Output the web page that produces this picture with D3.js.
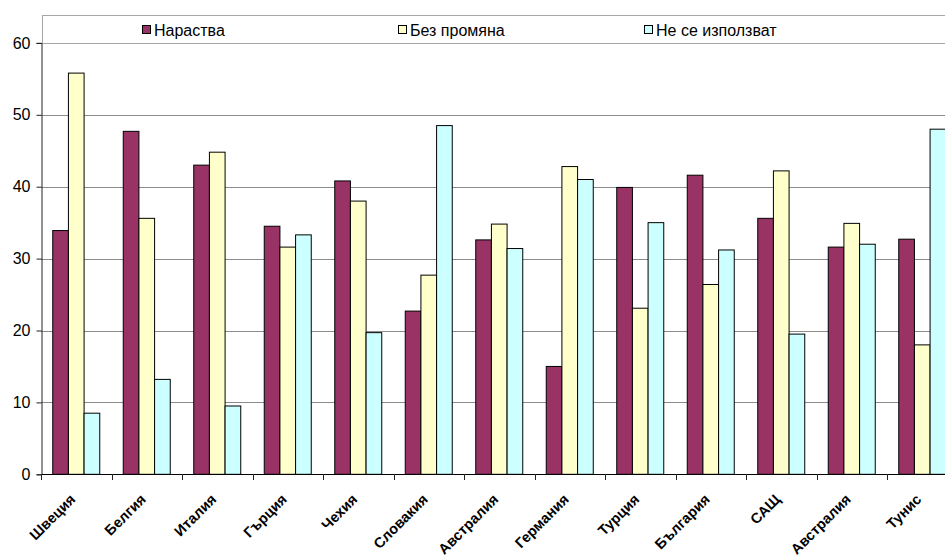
<!DOCTYPE html>
<html>
<head>
<meta charset="utf-8">
<script src="https://cdn.jsdelivr.net/npm/d3@7"></script>
<style>
  html, body { margin: 0; padding: 0; background: #fff; }
  svg { display: block; font-family: Arial, "Liberation Sans", sans-serif; }
</style>
</head>
<body>
<svg id="chart" width="945" height="559"></svg>
<script>
// Countries on the category axis
const countries = ["Швеция", "Белгия", "Италия", "Гърция", "Чехия", "Словакия",
  "Австралия", "Германия", "Турция", "България", "САЩ", "Австралия", "Тунис"];

// Series names shown in the legend
const seriesNames = ["Нараства", "Без промяна", "Не се използват"];

// Values per series (%), one entry per country
const growing   = [33.9, 47.7, 43.0, 34.5, 40.8, 22.7, 32.6, 15.0, 39.9, 41.6, 35.6, 31.6, 32.7];
const unchanged = [55.8, 35.6, 44.8, 31.6, 38.0, 27.7, 34.8, 42.8, 23.1, 26.4, 42.2, 34.9, 18.0];
const unused    = [8.5, 13.2, 9.5, 33.3, 19.7, 48.5, 31.4, 41.0, 35.0, 31.2, 19.5, 32.0, 48.0];

// Value axis ticks
const yTicks = [0, 10, 20, 30, 40, 50, 60];

const seriesValues = [growing, unchanged, unused];
const colors = ["#993366", "#FFFFCC", "#CCFFFF"];

const svg = d3.select("#chart");

const plotLeft = 41, plotRight = 957.5, plotTop = 42.9, plotBottom = 474.3;

const x0 = d3.scaleBand()
  .domain(d3.range(countries.length))
  .range([plotLeft, plotRight])
  .paddingInner(1 / 3)
  .paddingOuter(1 / 6);

const x1 = d3.scaleBand()
  .domain(d3.range(seriesNames.length))
  .range([0, x0.bandwidth()]);

const y = d3.scaleLinear().domain([0, 60]).range([plotBottom, plotTop]);

// Horizontal gridlines
svg.append("g")
  .selectAll("line")
  .data(yTicks.filter(t => t > 0))
  .join("line")
  .attr("x1", plotLeft).attr("x2", plotRight)
  .attr("y1", d => Math.round(y(d)) + 0.5).attr("y2", d => Math.round(y(d)) + 0.5)
  .attr("stroke", "#8c8c8c").attr("stroke-width", 1);

// Legend box along the top of the plot
const legend = svg.append("g");
legend.append("rect")
  .attr("x", plotLeft + 1.5).attr("y", 15.5)
  .attr("width", plotRight - plotLeft + 10).attr("height", Math.round(y(60)) - 15)
  .attr("fill", "#fff").attr("stroke", "#a6a6a6").attr("stroke-width", 1);

const legendX = [142, 398, 644];
const legendItems = legend.selectAll("g.item")
  .data(seriesNames)
  .join("g")
  .attr("class", "item")
  .attr("transform", (d, i) => `translate(${legendX[i]},0)`);
legendItems.append("rect")
  .attr("x", 0.5).attr("y", 25.5).attr("width", 8).attr("height", 8)
  .attr("fill", (d, i) => colors[i]).attr("stroke", "#000").attr("stroke-width", 1);
legendItems.append("text")
  .attr("x", 12).attr("y", 35.5)
  .attr("font-size", 16).attr("fill", "#000")
  .text(d => d);

// Bars
const groups = svg.append("g")
  .selectAll("g")
  .data(countries.map((c, i) => i))
  .join("g")
  .attr("transform", i => `translate(${x0(i)},0)`);

groups.selectAll("rect")
  .data(i => seriesValues.map((vals, s) => ({ s, v: vals[i] })))
  .join("rect")
  .attr("x", d => x1(d.s))
  .attr("y", d => y(d.v))
  .attr("width", x1.bandwidth())
  .attr("height", d => y(0) - y(d.v))
  .attr("fill", d => colors[d.s])
  .attr("stroke", "#000").attr("stroke-width", 1);

// Value axis
const yAxis = svg.append("g")
  .attr("transform", `translate(${plotLeft + 0.5},0)`)
  .call(d3.axisLeft(y).tickValues(yTicks).tickSize(5).tickPadding(6));
yAxis.select(".domain").attr("stroke", "#222");
yAxis.selectAll(".tick line").attr("stroke", "#222");
yAxis.selectAll(".tick text").attr("font-size", 16).attr("font-family", "Arial, 'Liberation Sans', sans-serif").attr("fill", "#000");

// Category axis: baseline, boundary ticks and rotated labels
const xAxis = svg.append("g");
const step = x0.step();
const boundaries = d3.range(countries.length + 1).map(i => x0(0) - step * x0.paddingOuter() + i * step);
xAxis.append("line")
  .attr("x1", plotLeft).attr("x2", plotRight)
  .attr("y1", Math.round(y(0)) + 0.5).attr("y2", Math.round(y(0)) + 0.5)
  .attr("stroke", "#000");
xAxis.selectAll("line.tick")
  .data(boundaries)
  .join("line")
  .attr("class", "tick")
  .attr("x1", d => Math.round(d) + 0.5).attr("x2", d => Math.round(d) + 0.5)
  .attr("y1", Math.round(y(0))).attr("y2", Math.round(y(0)) + 6)
  .attr("stroke", "#222");
xAxis.selectAll("text")
  .data(countries)
  .join("text")
  .attr("transform", (d, i) => `translate(${x0(i) + x0.bandwidth() / 2},${y(0) + 26}) rotate(-45)`)
  .attr("text-anchor", "end")
  .attr("font-size", 14.5).attr("font-weight", "bold").attr("fill", "#000")
  .text(d => d);
</script>
</body>
</html>
